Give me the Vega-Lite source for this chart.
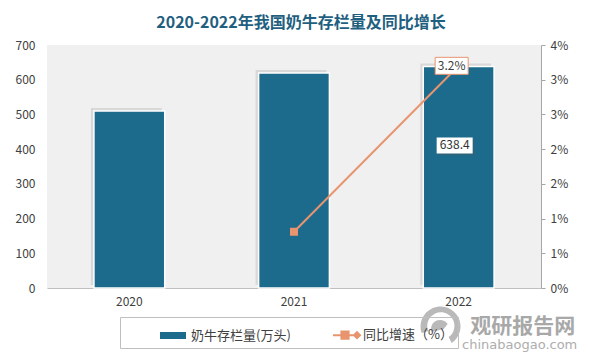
{
  "$schema": "https://vega.github.io/schema/vega-lite/v6.json",
  "width": 494,
  "height": 243,
  "autosize": {"type": "none"},
  "padding": {"left": 47, "top": 45, "right": 48, "bottom": 70},
  "background": "white",
  "title": {"text": "2020-2022年我国奶牛存栏量及同比增长", "fontSize": 16, "fontWeight": "bold", "color": "#1f5f80", "font": "Noto Sans CJK SC", "offset": 8, "dx": 7, "anchor": "middle"},
  "config": {
    "view": {"fill": "#f0f0f0", "stroke": null},
    "font": "Noto Sans CJK SC",
    "axis": {"labelFontSize": 12, "labelColor": "#404040", "labelFont": "Noto Sans CJK SC", "labelOverlap": false},
    "legend": {
      "orient": "none", "legendX": 73, "legendY": 272, "direction": "horizontal", "gridAlign": "all",
      "strokeColor": "#bfbfbf", "fillColor": null, "padding": 5,
      "labelFontSize": 13, "labelColor": "#404040", "labelFont": "Noto Sans CJK SC", "labelLimit": 250,
      "symbolSize": 576, "columnPadding": 6, "labelOffset": 5, "symbolOffset": 35
    }
  },
  "data": {"values": [
    {"year": "2020", "stock": 510, "growth": null},
    {"year": "2021", "stock": 619, "growth": 0.0081},
    {"year": "2022", "stock": 638.4, "growth": 0.032}
  ]},
  "encoding": {
    "x": {"field": "year", "type": "nominal", "scale": {"paddingInner": 0.57, "paddingOuter": 0.285},
      "axis": {"labelAngle": 0, "domain": true, "domainColor": "#bfbfbf", "ticks": false, "labelPadding": 8, "title": null, "grid": false}}
  },
  "layer": [
    {
      "encoding": {
        "y": {"field": "stock", "type": "quantitative", "scale": {"domain": [0, 700], "nice": false},
          "axis": {"values": [0, 100, 200, 300, 400, 500, 600, 700], "domain": false, "ticks": false, "grid": false, "labelPadding": 12, "title": null, "labelOverlap": false}}
      },
      "layer": [
        {
          "mark": {"type": "bar", "color": "#d2d2d2", "opacity": 0.8, "xOffset": -3, "yOffset": -3}
        },
        {
          "mark": {"type": "bar", "stroke": "white", "strokeWidth": 1.5},
          "encoding": {
            "color": {"datum": "奶牛存栏量(万头)", "type": "nominal",
              "scale": {"domain": ["奶牛存栏量(万头)", "同比增速（%）"], "range": ["#1d6b8c", "#e8956f"]},
              "legend": {
                "title": null,
                "encode": {"symbols": {"update": {
                  "shape": {"signal": "datum.value === '奶牛存栏量(万头)' ? 'M-1,-0.2H1V0.2H-1Z' : 'M-1,0H1M-0.3,-0.3H0.3V0.3H-0.3ZM1,-0.25L1.25,0L1,0.25L0.75,0Z'"},
                  "fill": {"signal": "datum.value === '奶牛存栏量(万头)' ? '#1d6b8c' : '#e8956f'"},
                  "stroke": {"signal": "datum.value === '奶牛存栏量(万头)' ? 'transparent' : '#e8956f'"},
                  "strokeWidth": {"value": 2},
                  "opacity": {"value": 1}
                }}}
              }
            }
          }
        },
        {
          "transform": [{"filter": "datum.year === '2022'"}],
          "mark": {"type": "point", "shape": "M-1,-0.444H1V0.444H-1Z", "size": 1296, "filled": true, "color": "#555555", "opacity": 0.3, "xOffset": -2, "yOffset": 81}
        },
        {
          "transform": [{"filter": "datum.year === '2022'"}],
          "mark": {"type": "point", "shape": "M-1,-0.444H1V0.444H-1Z", "size": 1296, "filled": true, "color": "white", "opacity": 1, "xOffset": -4, "yOffset": 79}
        },
        {
          "transform": [{"filter": "datum.year === '2022'"}],
          "mark": {"type": "text", "fontSize": 12, "color": "#333333", "xOffset": -4, "yOffset": 79, "baseline": "middle", "align": "center"},
          "encoding": {"text": {"field": "stock", "type": "quantitative", "format": ".1f"}}
        }
      ]
    },
    {
      "encoding": {
        "y": {"field": "growth", "type": "quantitative", "scale": {"domain": [0, 0.035], "nice": false},
          "axis": {"orient": "right", "values": [0, 0.005, 0.01, 0.015, 0.02, 0.025, 0.03, 0.035], "labelExpr": "round(datum.value * 100) + '%'",
            "domain": true, "domainColor": "#a6a6a6", "ticks": true, "tickColor": "#a6a6a6", "tickSize": 4, "grid": false, "labelPadding": 5, "title": null, "labelOverlap": false}}
      },
      "layer": [
        {
          "mark": {"type": "line", "color": "#e8956f", "strokeWidth": 2},
          "encoding": {
            "color": {"datum": "同比增速（%）", "type": "nominal",
              "legend": {
                "title": null,
                "encode": {"symbols": {"update": {
                  "shape": {"signal": "datum.value === '奶牛存栏量(万头)' ? 'M-1,-0.2H1V0.2H-1Z' : 'M-1,0H1M-0.3,-0.3H0.3V0.3H-0.3ZM1,-0.25L1.25,0L1,0.25L0.75,0Z'"},
                  "fill": {"signal": "datum.value === '奶牛存栏量(万头)' ? '#1d6b8c' : '#e8956f'"},
                  "stroke": {"signal": "datum.value === '奶牛存栏量(万头)' ? 'transparent' : '#e8956f'"},
                  "strokeWidth": {"value": 2},
                  "opacity": {"value": 1}
                }}}
              }
            }
          }
        },
        {
          "mark": {"type": "point", "shape": "square", "filled": true, "size": 64, "color": "#e8956f", "opacity": 1}
        },
        {
          "transform": [{"filter": "datum.year === '2022'"}],
          "mark": {"type": "point", "shape": "M-1,-0.515H1V0.515H-1Z", "size": 1089, "filled": true, "fill": "white", "stroke": "#e8956f", "strokeWidth": 1, "opacity": 1, "xOffset": -7}
        },
        {
          "transform": [{"filter": "datum.year === '2022'"}],
          "mark": {"type": "text", "fontSize": 12, "color": "#404040", "xOffset": -7, "baseline": "middle", "align": "center"},
          "encoding": {"text": {"field": "growth", "type": "quantitative", "format": ".1%"}}
        }
      ]
    },
    {
      "encoding": {
        "x": {"datum": "2022"},
        "y": {"datum": 0, "type": "quantitative", "scale": {"domain": [0, 700]}, "axis": null}
      },
      "layer": [
        {
          "data": {"values": [{"t": "logo"}]},
          "mark": {"type": "point", "shape": "M-0.95,0.35 A1,1 0 1,1 0.55,0.85 L0.4,0.55 A0.68,0.68 0 1,0 -0.62,0.25 Z M-0.45,0.3 A0.45,0.45 0 0,1 0.35,-0.1 L0.15,0.15 Z", "size": 1600, "filled": true, "color": "#a8a8a8", "opacity": 0.8, "xOffset": -18, "yOffset": 38}
        },
        {
          "data": {"values": [{"t": "观研报告网"}]},
          "mark": {"type": "text", "fontSize": 21, "fontWeight": "bold", "color": "#9a9a9a", "opacity": 0.85, "xOffset": 64, "yOffset": 45, "baseline": "alphabetic", "align": "center"},
          "encoding": {"text": {"field": "t"}}
        },
        {
          "data": {"values": [{"t": "chinabaogao.com"}]},
          "mark": {"type": "text", "fontSize": 13, "font": "DejaVu Sans", "color": "#a0a0a0", "opacity": 0.85, "xOffset": 61, "yOffset": 61, "baseline": "alphabetic", "align": "center"},
          "encoding": {"text": {"field": "t"}}
        }
      ]
    }
  ],
  "resolve": {"scale": {"y": "independent"}, "axis": {"y": "independent"}}
}
